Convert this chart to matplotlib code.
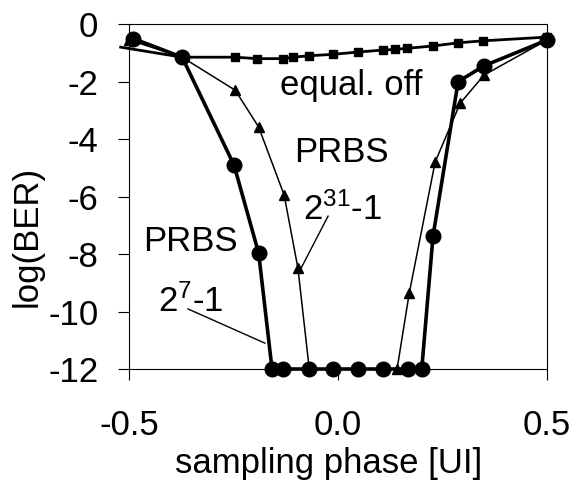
import matplotlib
matplotlib.use("Agg")
import matplotlib.pyplot as plt

plt.rcParams['font.family'] = ['Liberation Sans', 'DejaVu Sans']
plt.rcParams['mathtext.fontset'] = 'custom'
plt.rcParams['mathtext.rm'] = 'Liberation Sans'
plt.rcParams['mathtext.it'] = 'Liberation Sans'

# PRBS 2^7-1 (circles, thick line)
circle_x = [-0.49, -0.373, -0.249, -0.19, -0.158, -0.132, -0.069, -0.012, 0.048, 0.108, 0.167, 0.2, 0.227, 0.287, 0.349, 0.5]
circle_y = [-0.5, -1.15, -4.9, -7.97, -12, -12, -12, -12, -12, -12, -12, -12, -7.37, -2.0, -1.45, -0.55]

# PRBS 2^31-1 (triangles, thin line)
tri_x = [-0.5, -0.373, -0.246, -0.19, -0.129, -0.096, -0.069, -0.012, 0.048, 0.108, 0.141, 0.17, 0.232, 0.292, 0.349, 0.5]
tri_y = [-0.55, -1.15, -2.3, -3.58, -5.95, -8.5, -12, -12, -12, -12, -12, -9.37, -4.8, -2.75, -1.77, -0.55]

# equalizer off (squares)
sq_x = [-0.52, -0.373, -0.246, -0.194, -0.131, -0.108, -0.069, -0.012, 0.048, 0.108, 0.136, 0.165, 0.227, 0.287, 0.347, 0.5]
sq_y = [-0.8, -1.15, -1.15, -1.2, -1.2, -1.15, -1.1, -1.05, -0.97, -0.9, -0.88, -0.84, -0.76, -0.65, -0.58, -0.45]

x_ticks = [-0.5, 0.0, 0.5]
x_ticklabels = ['-0.5', '0.0', '0.5']
y_ticks = [0, -2, -4, -6, -8, -10, -12]

fig = plt.figure(figsize=(5.76, 4.83), dpi=100)
ax = fig.add_axes([0.224, 0.236, 0.726, 0.714])

ax.plot(sq_x, sq_y, color='black', lw=2.0, marker='s', ms=5.5,
        markevery=list(range(1, len(sq_x))), clip_on=False, zorder=3)
ax.plot(tri_x, tri_y, color='black', lw=1.1, marker='^', ms=6.5, clip_on=False, zorder=4)
ax.plot(circle_x, circle_y, color='black', lw=2.6, marker='o', ms=10.5, clip_on=False, zorder=5)

# labels inside the plot
ax.text(0.031, -2.12, 'equal. off', fontsize=25, ha='center', va='center')
ax.text(0.007, -4.45, 'PRBS', fontsize=25, ha='center', va='center')
ax.text(-0.084, -6.82, r'$2^{31}$-1', fontsize=25, ha='left', va='baseline')
ax.plot([-0.024, -0.091], [-6.68, -8.56], color='black', lw=1.0)
ax.text(-0.354, -7.58, 'PRBS', fontsize=25, ha='center', va='center')
ax.text(-0.431, -10.02, r'$2^{7}$-1', fontsize=25, ha='left', va='baseline')
ax.plot([-0.359, -0.175], [-9.91, -11.1], color='black', lw=1.0)

ax.set_xlim(-0.5, 0.5)
ax.set_ylim(-12, 0)
ax.set_xticks(x_ticks)
ax.set_xticklabels(x_ticklabels)
ax.set_yticks(y_ticks)
ax.set_yticklabels([str(v) for v in y_ticks])
ax.tick_params(direction='out', length=8, width=0.8, labelsize=25)
ax.tick_params(axis='y', pad=14)
ax.tick_params(axis='x', pad=21)
for s in ax.spines.values():
    s.set_linewidth(0.8)

ax.set_xlabel('sampling phase [UI]', fontsize=25)
ax.set_ylabel('log(BER)', fontsize=25)
ax.xaxis.set_label_coords(0.478, -0.225)
ax.yaxis.set_label_coords(-0.205, 0.383)

fig.savefig('out.png', dpi=100)
